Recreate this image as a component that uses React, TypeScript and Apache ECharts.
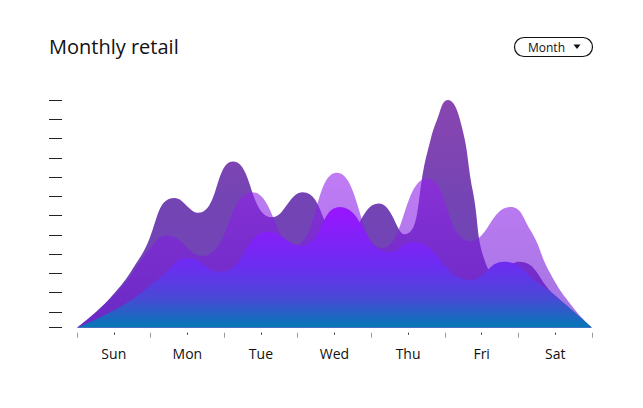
import React, { useEffect, useRef } from 'react';
import * as echarts from 'echarts';

// Category labels (days)
const days = ['Sun', 'Mon', 'Tue', 'Wed', 'Thu', 'Fri', 'Sat'];

// Series A (dark purple) – x in day units, y in value units (0..100)
const seriesAX = [0, 0.45, 0.86, 1.33, 1.65, 2.12, 2.65, 3.07, 3.6, 4.1, 4.45, 4.77, 4.89, 5.04, 5.2, 5.38, 5.57, 5.75, 6.0, 6.5, 7];
const seriesAY = [0, 13, 31, 57, 50.5, 73, 48.5, 59.5, 39, 54.5, 41, 78, 91, 100, 92, 60, 27, 24.5, 29, 14, 0];

// Series B (light purple)
const seriesBX = [0, 0.58, 1.0, 1.22, 1.7, 2.38, 2.95, 3.53, 4.15, 4.76, 5.35, 5.89, 6.16, 6.43, 6.74, 7];
const seriesBY = [0, 17, 35, 40.5, 31.5, 59.5, 36, 68, 35, 65.5, 38, 53, 43, 24, 9, 0];

// Series C (violet → blue gradient)
const seriesCX = [0, 0.68, 1.13, 1.5, 1.95, 2.6, 3.05, 3.57, 4.25, 4.55, 5.35, 5.8, 6.3, 6.65, 7];
const seriesCY = [0, 11, 22, 30.5, 24.5, 42, 36, 53, 33, 37.5, 21, 29, 19, 10, 0];

// Y tick axis: 12 ticks from the top, one tick at baseline
const yTickMax = 11.817;

const pair = (xs: number[], ys: number[]) => xs.map((x, i) => [x, ys[i]]);

export default function App() {
  const ref = useRef<HTMLDivElement>(null);
  useEffect(() => {
    const chart = echarts.init(ref.current!, null, { renderer: 'svg' });
    const grad = (stops: [number, string][]) =>
      new echarts.graphic.LinearGradient(0, 0, 0, 1, stops.map(([offset, color]) => ({ offset, color })));
    const gridBox = { left: 77, right: 51, top: 100, bottom: 80.3, containLabel: false };
    const area = (xs: number[], ys: number[], color: any) => ({
      type: 'line',
      xAxisIndex: 0,
      yAxisIndex: 0,
      smooth: true,
      symbol: 'none',
      lineStyle: { width: 0 },
      areaStyle: { opacity: 1, color },
      data: pair(xs, ys),
    });
    chart.setOption({
      animation: false,
      backgroundColor: '#ffffff',
      grid: [gridBox, { ...gridBox }],
      graphic: [
        {
          type: 'text',
          x: 49,
          y: 46,
          style: { text: 'Monthly retail', font: '20px "Open Sans"', fill: '#111', verticalAlign: 'middle' },
        },
        {
          type: 'rect',
          shape: { x: 514.5, y: 37.5, width: 78, height: 19, r: 9.5 },
          style: { fill: '#fff', stroke: '#111', lineWidth: 1.2 },
        },
        {
          type: 'text',
          x: 528,
          y: 47,
          style: { text: 'Month', font: '12px "Open Sans"', fill: '#111', verticalAlign: 'middle' },
        },
        {
          type: 'polygon',
          shape: { points: [[573.5, 44.5], [580.5, 44.5], [577, 49]] },
          style: { fill: '#111' },
        },
      ],
      xAxis: [
        {
          gridIndex: 0,
          type: 'value',
          min: 0,
          max: 7,
          interval: 1,
          position: 'bottom',
          offset: 5,
          axisLine: { show: false, onZero: false },
          axisTick: { show: true, length: 5, lineStyle: { color: '#9a9a9a', width: 1 } },
          axisLabel: { show: false },
          splitLine: { show: false },
        },
        {
          gridIndex: 1,
          type: 'category',
          data: days,
          boundaryGap: true,
          position: 'bottom',
          offset: 5,
          axisLine: { show: false, onZero: false },
          axisTick: { show: true, alignWithLabel: true, length: 2, lineStyle: { color: '#333', width: 1 } },
          axisLabel: { margin: 14, fontSize: 14, color: '#111', fontFamily: 'Open Sans' },
          splitLine: { show: false },
        },
      ],
      yAxis: [
        { gridIndex: 0, type: 'value', min: 0, max: 100, show: false, axisLine: { onZero: false } },
        {
          gridIndex: 1,
          type: 'value',
          inverse: true,
          min: 0,
          max: yTickMax,
          interval: 1,
          position: 'left',
          offset: 15,
          axisLine: { show: false, onZero: false },
          axisTick: { show: true, length: 13, lineStyle: { color: '#222', width: 1 } },
          axisLabel: { show: false },
          splitLine: { show: false },
        },
      ],
      series: [
        area(
          seriesAX,
          seriesAY,
          grad([
            [0, 'rgba(117,37,162,0.85)'],
            [0.45, 'rgba(91,35,167,0.85)'],
            [1, 'rgba(88,35,170,0.85)'],
          ])
        ),
        area(
          seriesBX,
          seriesBY,
          grad([
            [0, 'rgba(150,35,238,0.6)'],
            [1, 'rgba(100,25,205,0.6)'],
          ])
        ),
        area(
          seriesCX,
          seriesCY,
          grad([
            [0, '#9a14ff'],
            [0.5, '#6a2ef0'],
            [0.75, '#4a48d6'],
            [1, '#0478b4'],
          ])
        ),
      ],
    });
    return () => chart.dispose();
  }, []);
  return (
    <div
      ref={ref}
      style={{ position: 'fixed', left: 0, top: 0, width: 643, height: 408, background: '#fff' }}
    />
  );
}
